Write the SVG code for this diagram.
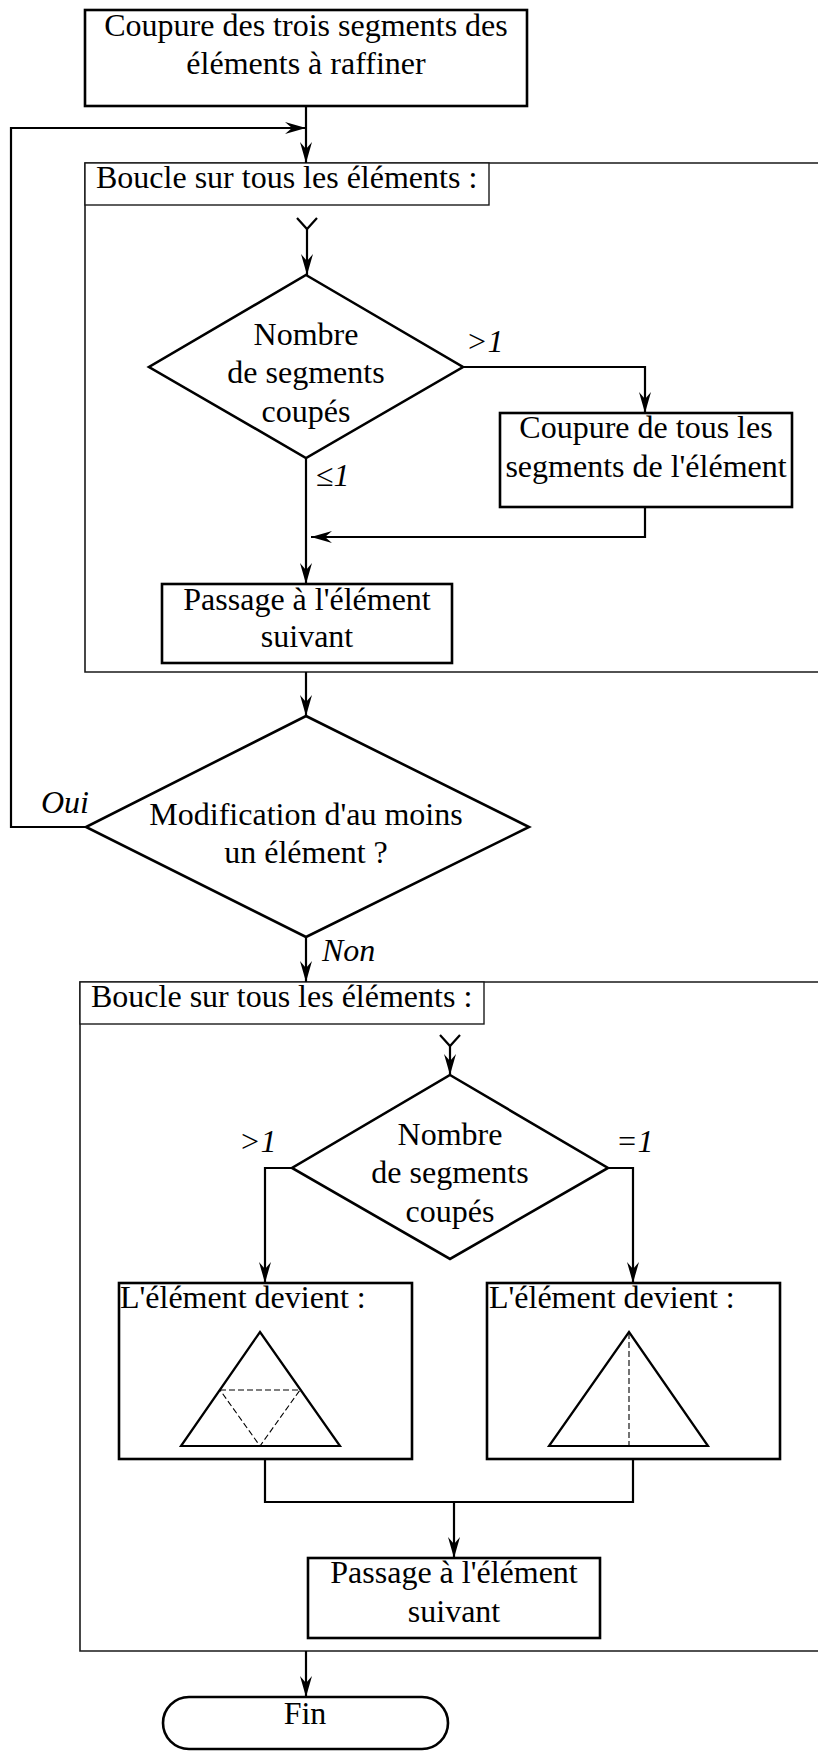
<svg xmlns="http://www.w3.org/2000/svg" width="818" height="1751" viewBox="0 0 818 1751">
<style>
text{font-family:"Liberation Serif","Times New Roman",serif;font-size:32px;fill:#000}
.c{text-anchor:middle}
.i{font-style:italic}
.box{fill:#fff;stroke:#000;stroke-width:2.6}
.loop{fill:none;stroke:#1a1a1a;stroke-width:1.6}
.tab{fill:#fff;stroke:#1a1a1a;stroke-width:1.4}
.ln{fill:none;stroke:#000;stroke-width:2.2}
.arr{fill:none;stroke:#000;stroke-width:2.2;marker-end:url(#ah)}
.tri{fill:none;stroke:#000;stroke-width:2.2}
.dash{fill:none;stroke:#000;stroke-width:1.1;stroke-dasharray:6 3}
</style>
<defs>
<marker id="ah" viewBox="-22 -7 23 14" refX="0" refY="0" markerWidth="23" markerHeight="14" markerUnits="userSpaceOnUse" orient="auto">
<path d="M0,0 L-21,-6 L-14,0 L-21,6 Z" fill="#000"/>
</marker>
</defs>

<g id="loop1">
<path class="loop" d="M830,163 H85 V672 H830"/>
<rect class="tab" x="85" y="163" width="404" height="42"/>
<text x="96" y="188">Boucle sur tous les éléments :</text>
</g>
<g id="loop2">
<path class="loop" d="M830,982 H80 V1651 H830"/>
<rect class="tab" x="80" y="982" width="404" height="42"/>
<text x="91" y="1007">Boucle sur tous les éléments :</text>
</g>

<g id="n_top">
<rect class="box" x="85" y="10" width="442" height="96"/>
<text class="c" x="306" y="36">Coupure des trois segments des</text>
<text class="c" x="306" y="74">éléments à raffiner</text>
</g>
<g id="d1">
<polygon class="box" points="306,275 463,367 306,458 149,367"/>
<text class="c" x="306" y="345">Nombre</text>
<text class="c" x="306" y="383">de segments</text>
<text class="c" x="306" y="422">coupés</text>
</g>
<g id="n_coupure">
<rect class="box" x="500" y="413" width="292" height="94"/>
<text class="c" x="646" y="438">Coupure de tous les</text>
<text class="c" x="646" y="477">segments de l'élément</text>
</g>
<g id="n_passage1">
<rect class="box" x="162" y="584" width="290" height="79"/>
<text class="c" x="307" y="610">Passage à l'élément</text>
<text class="c" x="307" y="647">suivant</text>
</g>
<g id="d2">
<polygon class="box" points="306,716 529,827 306,937 86,827"/>
<text class="c" x="306" y="825">Modification d'au moins</text>
<text class="c" x="306" y="863">un élément ?</text>
</g>
<g id="d3">
<polygon class="box" points="450,1075 608,1168 450,1259 292,1168"/>
<text class="c" x="450" y="1145">Nombre</text>
<text class="c" x="450" y="1183">de segments</text>
<text class="c" x="450" y="1222">coupés</text>
</g>
<g id="n_left">
<rect class="box" x="119" y="1283" width="293" height="176"/>
<text x="120" y="1308">L'élément devient :</text>
<polygon class="tri" points="260,1332 340,1446 181,1446"/>
<path class="dash" d="M220,1390 H300 L260,1446 Z"/>
</g>
<g id="n_right">
<rect class="box" x="487" y="1283" width="293" height="176"/>
<text x="489" y="1308">L'élément devient :</text>
<polygon class="tri" points="629,1332 708,1446 549,1446"/>
<path class="dash" d="M629,1333 V1446"/>
</g>
<g id="n_passage2">
<rect class="box" x="308" y="1558" width="292" height="80"/>
<text class="c" x="454" y="1583">Passage à l'élément</text>
<text class="c" x="454" y="1622">suivant</text>
</g>
<g id="n_fin">
<rect class="box" x="163" y="1697" width="285" height="52" rx="26" ry="26"/>
<text class="c" x="305" y="1724">Fin</text>
</g>

<g id="connectors">
<path class="arr" d="M306,106 V163"/>
<path class="arr" d="M86,827 H11 V128 H306"/>
<path class="ln" d="M297,218 L307,229 L317,218"/>
<path class="arr" d="M307,229 V275"/>
<path class="arr" d="M463,367 H645 V413"/>
<path class="arr" d="M645,507 V537 H311"/>
<path class="arr" d="M306,458 V584"/>
<path class="arr" d="M306,672 V716"/>
<path class="arr" d="M306,937 V982"/>
<path class="ln" d="M440,1035 L450,1046 L460,1035"/>
<path class="arr" d="M450,1046 V1075"/>
<path class="arr" d="M292,1168 H265 V1283"/>
<path class="arr" d="M608,1168 H633 V1283"/>
<path class="ln" d="M265,1459 V1502 H633 V1459"/>
<path class="arr" d="M454,1502 V1558"/>
<path class="arr" d="M306,1651 V1697"/>
<text class="i" x="466" y="352">&gt;1</text>
<text class="i" x="316" y="486">≤1</text>
<text class="i" x="41" y="813">Oui</text>
<text class="i" x="322" y="961">Non</text>
<text class="i" x="239" y="1152">&gt;1</text>
<text class="i" x="616" y="1152">=1</text>
</g>
</svg>
